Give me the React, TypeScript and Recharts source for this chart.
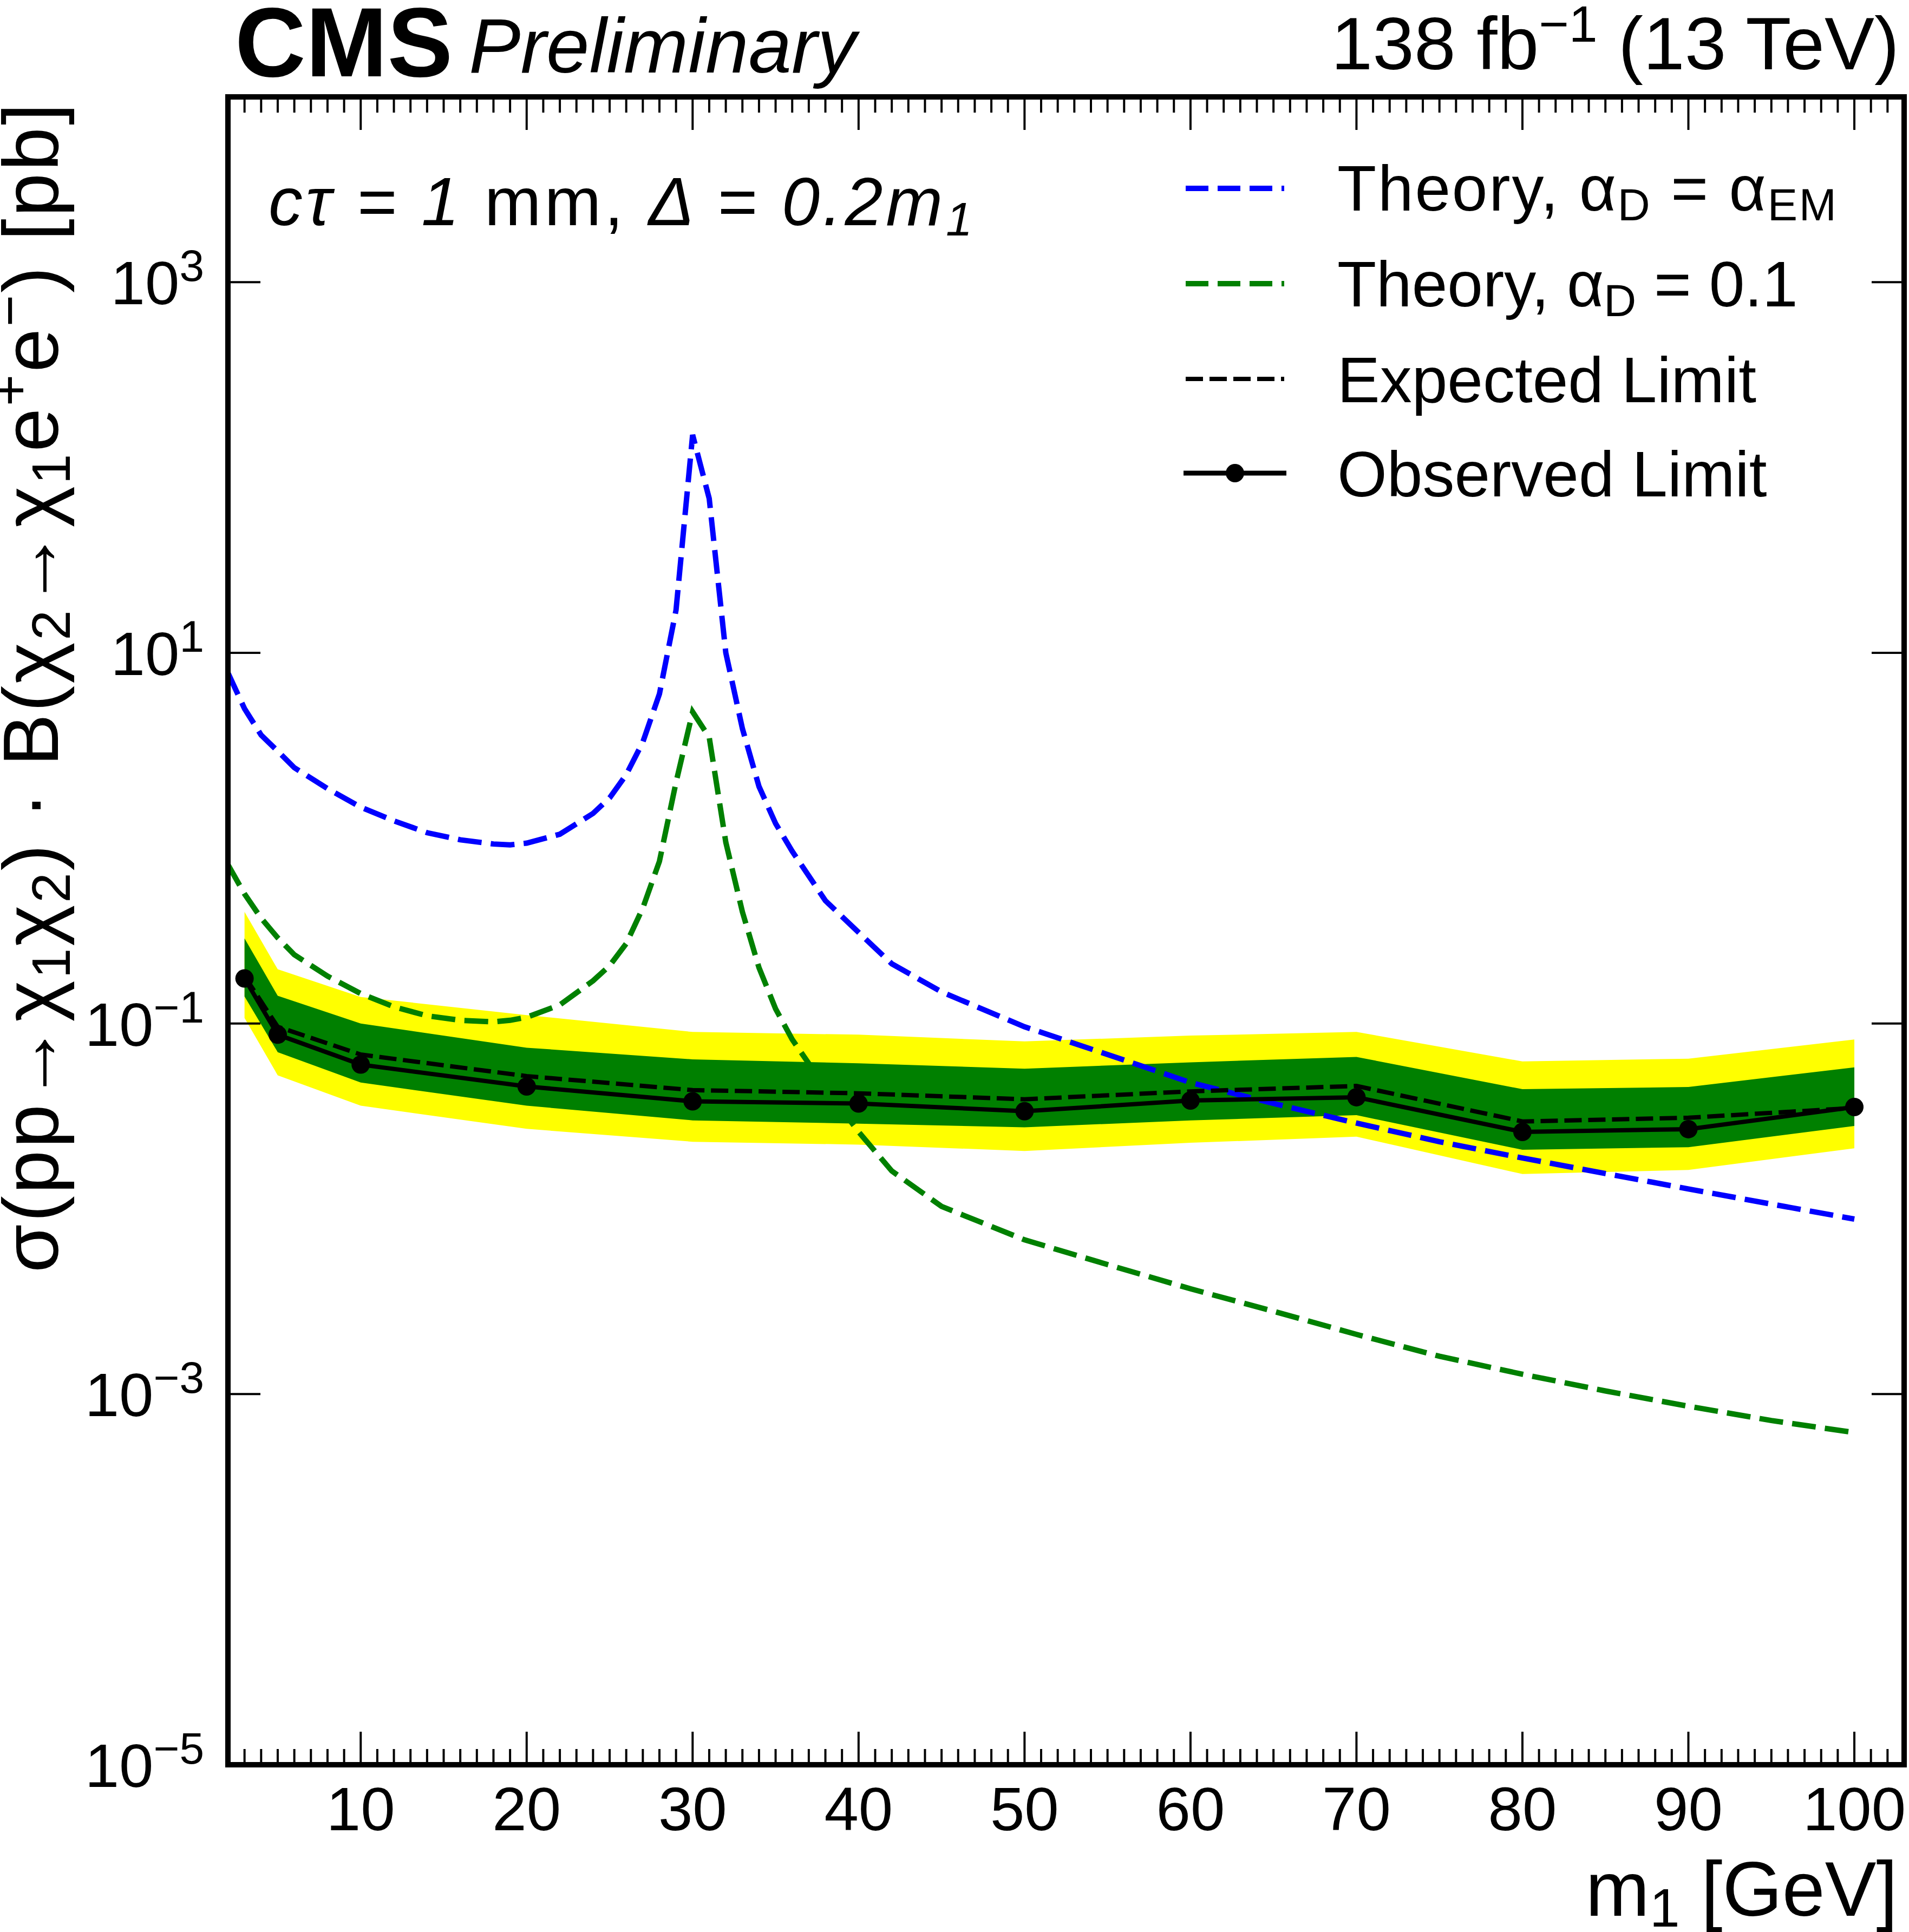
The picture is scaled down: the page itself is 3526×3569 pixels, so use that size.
import { Area, ComposedChart, Line, XAxis, YAxis } from "recharts";

const FONT = "'Liberation Sans', Arial, Helvetica, sans-serif";

// limit scan, m1 [GeV]
const masses = [3, 5, 10, 20, 30, 40, 50, 60, 70, 80, 90, 100];
const observed = [0.175, 0.087, 0.06, 0.0457, 0.038, 0.037, 0.0336, 0.0384, 0.04, 0.026, 0.0269, 0.0354];
const expected = [0.18, 0.096, 0.068, 0.052, 0.0437, 0.042, 0.039, 0.043, 0.046, 0.0296, 0.031, 0.035];
const oneSigmaLo = [0.14, 0.07, 0.048, 0.036, 0.03, 0.0288, 0.0275, 0.03, 0.032, 0.0208, 0.0215, 0.028];
const oneSigmaHi = [0.288, 0.141, 0.1, 0.074, 0.064, 0.061, 0.057, 0.0617, 0.066, 0.0442, 0.0454, 0.058];
const twoSigmaLo = [0.107, 0.0525, 0.036, 0.027, 0.023, 0.0222, 0.0205, 0.0227, 0.0245, 0.0154, 0.0162, 0.0212];
const twoSigmaHi = [0.4, 0.196, 0.139, 0.111, 0.09, 0.087, 0.08, 0.086, 0.09, 0.0624, 0.0646, 0.082];

// theory curves
const theoryMass = [2, 3, 4, 5, 6, 8, 10, 12, 14, 16, 18, 19, 20, 22, 24, 25, 26, 27, 28, 29, 30, 31, 32, 33, 34, 35, 36, 38, 40, 42, 45, 50, 55, 60, 65, 70, 75, 80, 85, 90, 95, 100];
const theoryEM = [7.8, 5.0, 3.6, 2.95, 2.4, 1.85, 1.47, 1.24, 1.07, 0.98, 0.93, 0.92, 0.94, 1.05, 1.36, 1.65, 2.2, 3.3, 6.0, 17, 150, 68, 10, 3.9, 1.9, 1.2, 0.85, 0.46, 0.31, 0.21, 0.148, 0.096, 0.068, 0.048, 0.037, 0.029, 0.023, 0.0188, 0.0155, 0.0128, 0.0106, 0.0088];
const theory01 = [0.72, 0.5, 0.37, 0.29, 0.235, 0.18, 0.145, 0.123, 0.11, 0.104, 0.102, 0.104, 0.108, 0.126, 0.17, 0.205, 0.27, 0.42, 0.75, 2.0, 4.8, 3.5, 0.95, 0.4, 0.2, 0.12, 0.082, 0.045, 0.026, 0.016, 0.0103, 0.0068, 0.005, 0.0037, 0.0028, 0.0021, 0.0016, 0.00128, 0.00104, 0.00086, 0.00072, 0.00062];

// axes
const xTicks = Array.from({ length: 100 }, (_, i) => i + 3);
const yTicks = [1e-5, 1e-3, 1e-1, 1e1, 1e3];
const yExponents = ["\u22125", "\u22123", "\u22121", "1", "3"];

const limitRows = masses.map((m, i) => ({
  m,
  obs: observed[i],
  exp: expected[i],
  band1: [oneSigmaLo[i], oneSigmaHi[i]],
  band2: [twoSigmaLo[i], twoSigmaHi[i]],
}));
const theoryRows = theoryMass.map((m, i) => ({ m, em: theoryEM[i], d01: theory01[i] }));

const W = 3526, H = 3569;
const TOP = 179, BOTTOM_H = 309, LEFT = 421, RIGHT_W = 9;
const PLOT_H = H - BOTTOM_H - TOP;
const PLOT_W = W - LEFT - RIGHT_W;

const frame = { stroke: "#000", strokeWidth: 10, strokeLinecap: "square" as const };

// bottom axis tick also mirrors onto the top frame
function BottomTick({ x, y, payload }: any) {
  const v = payload.value;
  const len = v % 10 === 0 ? 61 : 29;
  return (
    <g>
      <line x1={x} x2={x} y1={y} y2={y - len} stroke="#000" strokeWidth={4} />
      <line x1={x} x2={x} y1={y - PLOT_H} y2={y - PLOT_H + len} stroke="#000" strokeWidth={4} />
      {v % 10 === 0 && (
        <text x={x} y={y + 121} textAnchor="middle" fontSize={114} fontFamily={FONT} fill="#000">{v}</text>
      )}
    </g>
  );
}
function LeftTick({ x, y, index }: any) {
  return (
    <g>
      <line x1={x} x2={x + 60} y1={y} y2={y} stroke="#000" strokeWidth={4} />
      <line x1={x + PLOT_W} x2={x + PLOT_W - 60} y1={y} y2={y} stroke="#000" strokeWidth={4} />
      <text x={x - 44} y={y + 41} textAnchor="end" fontSize={114} fontFamily={FONT} fill="#000">
        10<tspan fontSize={82} dy={-43}>{yExponents[index]}</tspan>
      </text>
    </g>
  );
}

export default function App() {
  return (
    <div style={{ position: "absolute", left: 0, top: 0, width: W, height: H, background: "#fff" }}>
      <ComposedChart width={W} height={H} data={limitRows} margin={{ top: 0, right: 0, bottom: 0, left: 0 }}>
        <XAxis xAxisId="b" dataKey="m" type="number" domain={[2, 103]} allowDataOverflow ticks={xTicks} interval={0}
          height={BOTTOM_H} tickSize={0} tickMargin={0} tickLine={false} axisLine={frame} tick={<BottomTick />} />
        <XAxis xAxisId="t" orientation="top" type="number" domain={[2, 103]} allowDataOverflow
          height={TOP} tickLine={false} axisLine={frame} tick={false} />
        <YAxis yAxisId="l" type="number" scale="log" domain={[1e-5, 1e4]} allowDataOverflow ticks={yTicks} interval={0}
          width={LEFT} tickSize={0} tickMargin={0} tickLine={false} axisLine={frame} tick={<LeftTick />} />
        <YAxis yAxisId="r" orientation="right" type="number" scale="log" domain={[1e-5, 1e4]} allowDataOverflow
          width={RIGHT_W} tickLine={false} axisLine={frame} tick={false} />

        <Area xAxisId="b" yAxisId="l" type="linear" dataKey="band2" stroke="none" fill="#ffff00" fillOpacity={1} isAnimationActive={false} activeDot={false} />
        <Area xAxisId="b" yAxisId="l" type="linear" dataKey="band1" stroke="none" fill="#008000" fillOpacity={1} isAnimationActive={false} activeDot={false} />

        <Line xAxisId="b" yAxisId="l" data={theoryRows} type="linear" dataKey="em" stroke="#0000ff" strokeWidth={10}
          strokeDasharray="44 17" dot={false} activeDot={false} isAnimationActive={false} />
        <Line xAxisId="b" yAxisId="l" data={theoryRows} type="linear" dataKey="d01" stroke="#008000" strokeWidth={10}
          strokeDasharray="44 17" dot={false} activeDot={false} isAnimationActive={false} />

        <Line xAxisId="b" yAxisId="l" type="linear" dataKey="exp" stroke="#000" strokeWidth={8}
          strokeDasharray="32 12" dot={false} activeDot={false} isAnimationActive={false} />
        <Line xAxisId="b" yAxisId="l" type="linear" dataKey="obs" stroke="#000" strokeWidth={8}
          dot={{ r: 17, fill: "#000", stroke: "#000", strokeWidth: 0 }} activeDot={false} isAnimationActive={false} />
      </ComposedChart>

      <svg width={W} height={H} style={{ position: "absolute", left: 0, top: 0, pointerEvents: "none", whiteSpace: "pre" }}
        fontFamily={FONT} fill="#000">
        <text x={434} y={141} fontWeight="bold" fontSize={181}>CMS</text>
        <text x={866} y={134} fontStyle="italic" fontSize={143}>Preliminary</text>
        <text x={3508} y={128} textAnchor="end" fontSize={138}>
          138 fb<tspan fontSize={95} dy={-51}>{"\u22121"}</tspan><tspan dy={51}> (13 TeV)</tspan>
        </text>

        <text x={496} y={416} fontSize={126} textLength={1300} lengthAdjust="spacing">
          <tspan fontStyle="italic">c{"\u03c4"} = 1</tspan>
          <tspan> mm,</tspan>
          <tspan fontStyle="italic">{"  \u0394 = 0.2m"}</tspan>
          <tspan fontStyle="italic" fontSize={88} dy={19}>1</tspan>
        </text>

        {/* legend */}
        <line x1={2190} x2={2372} y1={348} y2={348} stroke="#0000ff" strokeWidth={10} strokeDasharray="42 17" />
        <text x={2470} y={389} fontSize={118} textLength={922} lengthAdjust="spacing">
          Theory, {"\u03b1"}<tspan fontSize={83} dy={18}>D</tspan><tspan dy={-18}>{" = \u03b1"}</tspan><tspan fontSize={83} dy={18}>EM</tspan>
        </text>
        <line x1={2190} x2={2372} y1={524} y2={524} stroke="#008000" strokeWidth={10} strokeDasharray="42 17" />
        <text x={2470} y={566} fontSize={118}>
          Theory, {"\u03b1"}<tspan fontSize={83} dy={18}>D</tspan><tspan dy={-18}>{" = 0.1"}</tspan>
        </text>
        <line x1={2190} x2={2372} y1={700} y2={700} stroke="#000" strokeWidth={8} strokeDasharray="32 12" />
        <text x={2470} y={743} fontSize={118}>Expected Limit</text>
        <line x1={2186} x2={2376} y1={874} y2={874} stroke="#000" strokeWidth={9} />
        <circle cx={2281} cy={874} r={17} fill="#000" />
        <text x={2470} y={917} fontSize={118}>Observed Limit</text>

        {/* axis titles */}
        <text x={3505} y={3539} textAnchor="end" fontSize={142}>
          m<tspan fontSize={100} dy={20}>1</tspan><tspan dy={-20}> [GeV]</tspan>
        </text>
        <text transform="translate(107 191) rotate(-90)" textAnchor="end" fontSize={145} textLength={2160} lengthAdjust="spacing">
          {"\u03c3(pp\u2192\u03c7"}<tspan fontSize={100} dy={22}>1</tspan>
          <tspan dy={-22}>{"\u03c7"}</tspan><tspan fontSize={100} dy={22}>2</tspan>
          <tspan dy={-22}>{") \u00b7 B(\u03c7"}</tspan><tspan fontSize={100} dy={22}>2</tspan>
          <tspan dy={-22}>{"\u2192\u03c7"}</tspan><tspan fontSize={100} dy={22}>1</tspan>
          <tspan dy={-22}>e</tspan><tspan fontSize={100} dy={-55}>+</tspan>
          <tspan dy={55}>e</tspan><tspan fontSize={100} dy={-55}>{"\u2212"}</tspan>
          <tspan dy={55}>{") [pb]"}</tspan>
        </text>
      </svg>
    </div>
  );
}
